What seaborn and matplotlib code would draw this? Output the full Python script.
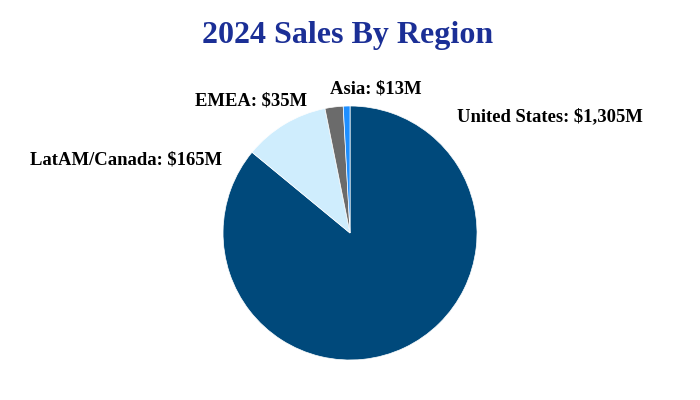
import matplotlib
matplotlib.use("Agg")
import matplotlib.pyplot as plt
import seaborn as sns

# Données
regions = ["United States", "LatAM/Canada", "EMEA", "Asia"]
sales = [1305, 165, 35, 13]
labels = ["United States: $1,305M", "LatAM/Canada: $165M", "EMEA: $35M", "Asia: $13M"]
colors = ["#00497B", "#CFEDFD", "#6B6B6B", "#1E8FFF"]

sns.set_theme(style="white")
plt.rcParams['font.family'] = ['Liberation Serif', 'DejaVu Serif']

fig = plt.figure(figsize=(7, 4), dpi=100)
ax = fig.add_axes([0.3186, 0.1, 0.3629, 0.635])
ax.pie(sales, colors=colors, startangle=90, counterclock=False,
       wedgeprops=dict(edgecolor="white", linewidth=0.5))
ax.set_xlim(-1, 1)
ax.set_ylim(-1, 1)
ax.set_aspect("equal")
ax.axis("off")

# Étiquettes (position en pixels du centre du texte)
label_pos = [(550, 117), (126, 160), (251, 101), (376, 89)]
for txt, (px, py) in zip(labels, label_pos):
    fig.text(px / 700, 1 - py / 400, txt, ha="center", va="center",
             fontsize=13.4, fontweight="bold", color="black")

fig.text(0.497, 1 - 36 / 400, "2024 Sales By Region", ha="center", va="center",
         fontsize=23, fontweight="bold", color="#1B2F96")

fig.savefig("out.png", dpi=100)
